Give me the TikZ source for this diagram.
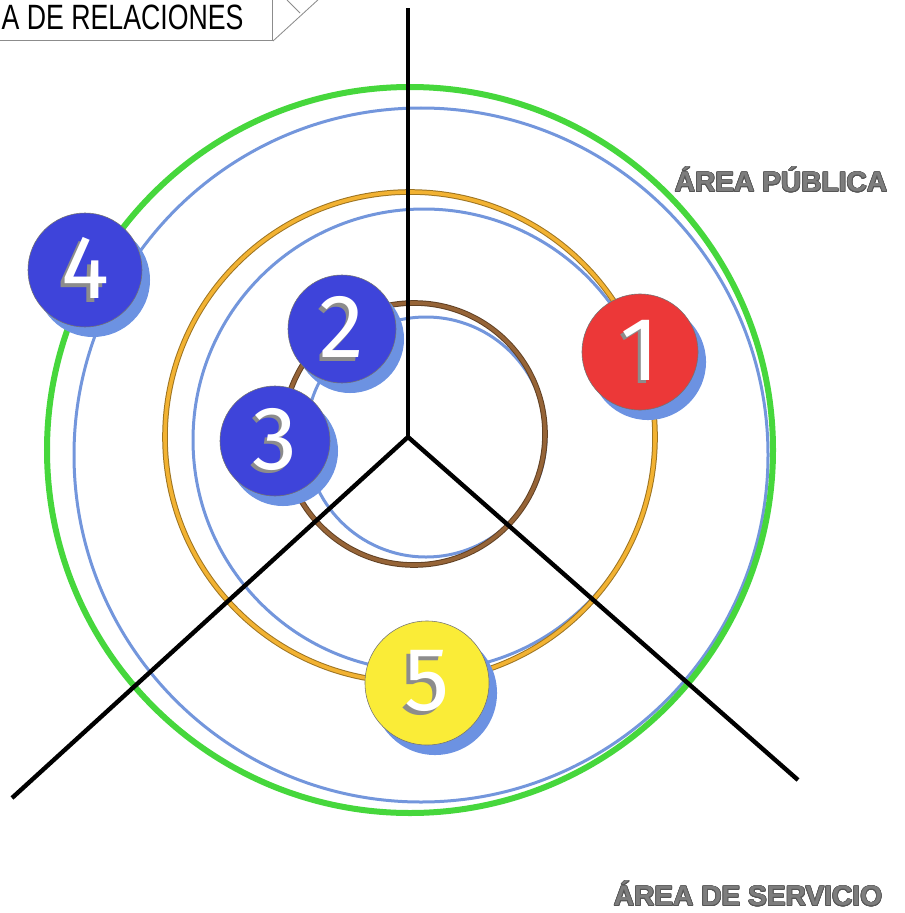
\documentclass[tikz,border=0pt]{standalone}
\usepackage{fontspec}
\setmainfont{Liberation Sans}
\newfontfamily\digitfont{Fira Sans}
\usepackage{xcolor}
\usepackage{tikz}
\usepackage{contour}
\usetikzlibrary{shadows, positioning, calc}
\definecolor{RingGreen}{RGB}{70, 215, 60}
\definecolor{RingBlue}{RGB}{115, 150, 220}
\definecolor{RingOrange}{RGB}{242, 178, 50}
\definecolor{RingBrown}{RGB}{150, 100, 55}
\definecolor{DiscBlue}{RGB}{62, 68, 218}
\definecolor{DiscRed}{RGB}{236, 56, 56}
\definecolor{DiscYellow}{RGB}{250, 236, 55}
\definecolor{DiscShadow}{RGB}{108, 146, 226}
\definecolor{LabelGray}{RGB}{125, 125, 125}
\definecolor{LabelEdge}{RGB}{85, 85, 85}
\definecolor{FrameGray}{RGB}{140, 140, 140}
\contourlength{0.5pt}

\newcommand{\embossed}[1]{\makebox[0pt][l]{\kern-2.5pt\raisebox{-2.5pt}{\textcolor{black!45}{#1}}}\textcolor{white}{#1}}

\tikzset{
  disc/.style={circle, draw=black!55, line width=0.4pt, inner sep=0pt,
    drop shadow={shadow xshift=0.2cm, shadow yshift=-0.25cm, fill=DiscShadow, opacity=1},
    font=\digitfont\fontsize{64}{64}\selectfont},
  ringline/.style={line width=#1},
  edgedring/.style={preaction={draw=#1!65!black, line width=0.14cm}, draw=#1, line width=0.09cm},
  divider/.style={line width=0.11cm, black},
  arealabel/.style={font=\bfseries\fontsize{20}{20}\selectfont, text=LabelGray}
}

\begin{document}
\begin{tikzpicture}[x=0.025cm, y=-0.025cm]
  \useasboundingbox (0,0) rectangle (905,913);

  % rings
  \draw[RingBlue, ringline=0.075cm] (421,455) circle (347);
  \draw[RingGreen, ringline=0.15cm] (410,450) circle (363);
  \draw[RingBlue, ringline=0.075cm] (424,440) circle (231);
  \draw[edgedring=RingOrange] (410,437) circle (245);
  \draw[RingBlue, ringline=0.075cm] (426,437) circle (120);
  \draw[edgedring=RingBrown] (414,434) circle (131);

  % sectors
  \coordinate (hub) at (408,437);
  \coordinate (endTop) at (408,8);
  \coordinate (endLeft) at (12,798);
  \coordinate (endRight) at (798,780);
  \draw[divider] (hub) -- (endTop);
  \draw[divider] (hub) -- (endLeft);
  \draw[divider] (hub) -- (endRight);

  % discs
  \node[disc, fill=DiscRed, minimum size=2.9cm] (d1) at (640,352) {\embossed{1}};
  \node[disc, fill=DiscBlue, minimum size=2.7cm] (d2) at (342,329) {\embossed{2}};
  \node[disc, fill=DiscBlue, minimum size=2.75cm] (d3) at (275,441) {\embossed{3}};
  \node[disc, fill=DiscBlue, minimum size=2.85cm] (d4) at (85,270) {\embossed{4}};
  \node[disc, fill=DiscYellow, minimum size=3.1cm] (d5) at (427,683) {\embossed{5}};

  % labels
  \node[arealabel] (publica) at (781,180) {\contour{LabelEdge}{ÁREA PÚBLICA}};
  \node[arealabel] (servicio) at (748,894) {\contour{LabelEdge}{ÁREA DE SERVICIO}};

  % title
  \node[
    draw=FrameGray,
    line width=0.6pt,
    anchor=south east,
    minimum height=1.18cm,
    minimum width=7.5cm,
    align=right,
    inner xsep=0.65cm,
    font=\fontsize{25}{25}\selectfont
  ] (title) at (273,41) {\scalebox{0.76}[1]{A DE RELACIONES}};
  \coordinate (tipA) at (320,-2);
  \coordinate (tipB) at (287,0);
  \coordinate (tipC) at (300,13);
  \draw[FrameGray, line width=0.6pt] (title.south east) -- (tipA);
  \draw[FrameGray, line width=0.6pt] (tipB) -- (tipC);
\end{tikzpicture}
\end{document}
